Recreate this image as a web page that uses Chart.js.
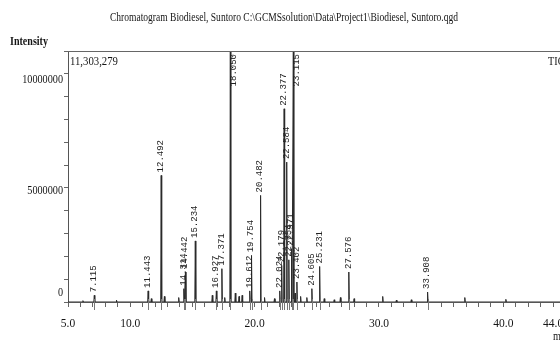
<!DOCTYPE html>
<html>
<head>
<meta charset="utf-8">
<script src="https://cdn.jsdelivr.net/npm/chart.js@4/dist/chart.umd.min.js"></script>
<style>
  html, body { margin: 0; padding: 0; background: #fff; overflow: hidden; }
  #wrap { width: 600px; height: 342px; }
</style>
</head>
<body>
<div id="wrap"><canvas id="c" width="600" height="342"></canvas></div>
<script>
// ---- data ----
const titleText = "Chromatogram Biodiesel, Suntoro C:\\GCMSsolution\\Data\\Project1\\Biodiesel, Suntoro.qgd";
const yAxisTitle = "Intensity";
const xAxisTitle = "min";
const maxIntensityLabel = "11,303,279";
const traceName = "TIC";

// labelled peaks: retention time (min) and intensity
const peakTimes   = [7.115, 11.443, 12.492, 14.314, 14.442, 15.234, 16.927, 17.371, 18.050, 19.612, 19.754, 20.482,
                     22.024, 22.179, 22.377, 22.584, 22.754, 22.971, 23.115, 23.402, 24.605, 25.231, 27.576, 33.908];
const peakHeights = [300000, 500000, 5700000, 600000, 1350000, 2750000, 500000, 1500000, 11303279, 500000, 2100000, 4800000,
                     500000, 1650000, 8700000, 6300000, 1900000, 2400000, 11303279, 900000, 600000, 1600000, 1350000, 450000];

// small unlabelled peaks along the baseline
const minorTimes   = [6.2, 8.9, 11.7, 12.75, 13.9, 16.6, 17.6, 18.45, 18.75, 19.0, 20.8, 21.6, 23.25, 23.7, 24.2,
                      25.6, 26.4, 26.9, 28.0, 30.3, 31.4, 32.6, 36.9, 40.2];
const minorHeights = [60000, 80000, 150000, 250000, 200000, 300000, 200000, 400000, 250000, 300000, 200000, 150000, 400000,
                      250000, 200000, 150000, 100000, 200000, 150000, 250000, 80000, 100000, 200000, 120000];

// axis ticks
const xLabelled = [5, 10, 20, 30, 40, 44];
const yLabelled = [0, 5000000, 10000000];
const xMin = 5, xMax = 46;
const yMax = 11303279;

// ---- build trace from the peak arrays ----
const allPeaks = peakTimes.map((t, i) => ({ t, h: peakHeights[i] }))
  .concat(minorTimes.map((t, i) => ({ t, h: minorHeights[i] })))
  .sort((a, b) => a.t - b.t);
const trace = [{ x: xMin, y: 0 }];
allPeaks.forEach(p => {
  trace.push({ x: p.t - 0.04, y: 0 });
  trace.push({ x: p.t, y: p.h });
  trace.push({ x: p.t + 0.04, y: 0 });
});
trace.push({ x: xMax, y: 0 });

const serif = "'Liberation Serif', 'Times New Roman', serif";

function condensedText(ctx, txt, x, y, size, bold, targetW, align) {
  ctx.save();
  ctx.font = (bold ? 'bold ' : '') + size + 'px ' + serif;
  const w = ctx.measureText(txt).width;
  const s = targetW ? Math.min(1, targetW / w) : 0.85;
  ctx.translate(x, y);
  ctx.scale(s, 1);
  ctx.textBaseline = 'middle';
  ctx.textAlign = align || 'left';
  ctx.fillStyle = '#151515';
  ctx.fillText(txt, 0, 0);
  ctx.restore();
}

const decorations = {
  id: 'decorations',
  afterDraw(chart) {
    const ctx = chart.ctx;
    const a = chart.chartArea;
    const xs = chart.scales.x, ys = chart.scales.y;
    // top frame line
    ctx.save();
    ctx.strokeStyle = '#666';
    ctx.lineWidth = 1;
    ctx.beginPath();
    ctx.moveTo(a.left, a.top + 0.5);
    ctx.lineTo(a.right, a.top + 0.5);
    ctx.stroke();
    ctx.restore();

    // title and texts
    condensedText(ctx, titleText, 284, 18, 13, false, 348, 'center');
    condensedText(ctx, yAxisTitle, 10, 42, 12, true, 38, 'left');
    condensedText(ctx, maxIntensityLabel, a.left + 2, a.top + 11, 12, false, 48, 'left');
    condensedText(ctx, traceName, 548, a.top + 11, 12, false, null, 'left');
    condensedText(ctx, xAxisTitle, 553, 337, 12, false, null, 'left');

    // y tick labels (the zero is raised above the axis as in the original)
    yLabelled.forEach(v => {
      const py = ys.getPixelForValue(v) - (v === 0 ? 9 : 0);
      condensedText(ctx, String(v), a.left - 5, py, 12, false, v === 0 ? null : (String(v).length * 5.1), 'right');
    });

    // integration marks under the baseline
    const y0 = ys.getPixelForValue(0);
    ctx.save();
    ctx.strokeStyle = '#777';
    ctx.lineWidth = 1;
    peakTimes.forEach(t => {
      const px = Math.round(xs.getPixelForValue(t)) + 0.5;
      ctx.beginPath();
      ctx.moveTo(px, y0 - 3);
      ctx.lineTo(px, y0 + 8);
      ctx.stroke();
    });
    ctx.restore();

    // peak labels
    ctx.save();
    ctx.font = "9px 'Liberation Mono', 'DejaVu Sans Mono', monospace";
    ctx.fillStyle = '#222';
    ctx.textBaseline = 'middle';
    ctx.textAlign = 'left';
    peakTimes.forEach((t, i) => {
      const lbl = t.toFixed(3);
      const w = ctx.measureText(lbl).width;
      const px = xs.getPixelForValue(t);
      let py = ys.getPixelForValue(Math.min(peakHeights[i], yMax)) - 3;
      let dx = -0.5;
      if (py - w < a.top + 3) { py = a.top + 3 + w; dx = 3; }
      ctx.save();
      ctx.translate(px + dx, py);
      ctx.rotate(-Math.PI / 2);
      ctx.fillText(lbl, 0, 0);
      ctx.restore();
    });
    ctx.restore();
  }
};

new Chart(document.getElementById('c'), {
  type: 'line',
  data: {
    datasets: [{
      label: traceName,
      data: trace,
      borderColor: '#2a2a2a',
      borderWidth: 1,
      pointRadius: 0,
      tension: 0,
      fill: false
    }]
  },
  options: {
    responsive: false,
    animation: false,
    events: [],
    layout: { padding: { top: 51, left: 0, right: 22, bottom: 0 } },
    plugins: { legend: { display: false }, title: { display: false }, tooltip: { enabled: false } },
    scales: {
      x: {
        type: 'linear',
        min: xMin,
        max: xMax,
        afterFit(s) { s.height = 40; },
        border: { display: true, color: '#555', width: 1 },
        grid: { display: true, drawOnChartArea: false, drawTicks: true, tickLength: 5, color: '#666' },
        ticks: {
          stepSize: 1,
          autoSkip: false,
          maxRotation: 0,
          padding: 10,
          color: '#151515',
          font: { family: serif, size: 11.5 },
          callback: v => xLabelled.some(L => Math.abs(v - L) < 1e-6) ? Number(v).toFixed(1) : ''
        }
      },
      y: {
        type: 'linear',
        min: 0,
        max: yMax,
        afterFit(s) { s.width = 68; },
        border: { display: true, color: '#555', width: 1 },
        grid: { display: true, drawOnChartArea: false, drawTicks: true, tickLength: 4, color: '#666' },
        ticks: {
          stepSize: 1000000,
          autoSkip: false,
          padding: 1,
          callback: () => ''
        }
      }
    }
  },
  plugins: [decorations]
});
</script>
</body>
</html>
